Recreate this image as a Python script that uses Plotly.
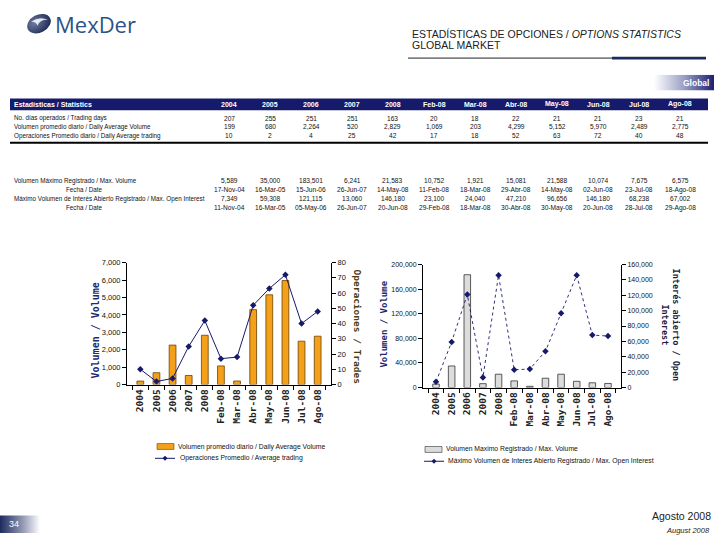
import base64
import plotly.graph_objects as go

W, H = 720, 540


def px(x):
    return x / W


def py(y):
    return 1 - y / H


# ---------------- data ----------------
periods = ["2004", "2005", "2006", "2007", "2008", "Feb-08", "Mar-08",
           "Abr-08", "May-08", "Jun-08", "Jul-08", "Ago-08"]
trading_days = [207, 255, 251, 251, 163, 20, 18, 22, 21, 21, 23, 21]
daily_avg_volume = [199, 680, 2264, 520, 2829, 1069, 203, 4299, 5152, 5970, 2489, 2775]
daily_avg_trades = [10, 2, 4, 25, 42, 17, 18, 52, 63, 72, 40, 48]
max_volume = [5589, 35000, 183501, 6241, 21583, 10752, 1921, 15081, 21588, 10074, 7675, 6575]
max_volume_date = ["17-Nov-04", "16-Mar-05", "15-Jun-06", "26-Jun-07", "14-May-08", "11-Feb-08",
                   "18-Mar-08", "29-Abr-08", "14-May-08", "02-Jun-08", "23-Jul-08", "18-Ago-08"]
max_open_interest = [7349, 59308, 121115, 13060, 146180, 23100, 24040, 47210, 96656, 146180, 68238, 67002]
max_oi_date = ["11-Nov-04", "16-Mar-05", "05-May-06", "26-Jun-07", "20-Jun-08", "29-Feb-08",
               "18-Mar-08", "30-Abr-08", "30-May-08", "20-Jun-08", "28-Jul-08", "29-Ago-08"]

row_labels_top = ["No. días operados / Trading days",
                  "Volumen promedio diario / Daily Average Volume",
                  "Operaciones Promedio diario / Daily Average trading"]
row_labels_bottom = ["Volumen Máximo Registrado / Max. Volume",
                     "Fecha / Date",
                     "Máximo Volumen de Interés Abierto Registrado / Max. Open Interest",
                     "Fecha / Date"]
legend_left = ["Volumen promedio diario / Daily Average Volume",
               "Operaciones Promedio / Average trading"]
legend_right = ["Volumen Maximo Registrado / Max. Volume",
                "Máximo Volumen de Interes Abierto Registrado / Max. Open Interest"]

NAVY = "#161a6a"
ORANGE = "#F5A01A"
GRAY = "#DCDCDC"
SANS = "Liberation Sans, Arial, sans-serif"
MONO = "DejaVu Sans Mono, monospace"

fig = go.Figure()

fig.add_trace(go.Bar(
    x=periods, y=daily_avg_volume, name=legend_left[0],
    marker=dict(color=ORANGE, line=dict(color="#6a4300", width=0.8)), width=0.42,
    xaxis="x", yaxis="y"))
fig.add_trace(go.Scatter(
    x=periods, y=daily_avg_trades, name=legend_left[1],
    mode="lines+markers", line=dict(color=NAVY, width=1),
    marker=dict(symbol="diamond", size=5, color=NAVY),
    xaxis="x", yaxis="y2"))
fig.add_trace(go.Bar(
    x=periods, y=max_volume, name=legend_right[0],
    marker=dict(color=GRAY, line=dict(color="#333333", width=0.8)), width=0.42,
    xaxis="x2", yaxis="y3"))
fig.add_trace(go.Scatter(
    x=periods, y=max_open_interest, name=legend_right[1],
    mode="lines+markers", line=dict(color=NAVY, width=0.9, dash="dot"),
    marker=dict(symbol="diamond", size=5, color=NAVY),
    xaxis="x2", yaxis="y4"))

xt = dict(family=MONO, size=9.5, color="#222222", weight="bold")
yt = dict(family=SANS, size=7.5, color="#111111")
yt_small = dict(family=SANS, size=7, color="#111111")
common_x = dict(type="category", tickangle=-90, tickfont=xt, showline=True, linecolor="black",
                linewidth=1, ticks="outside", tickson="boundaries", ticklen=4, tickcolor="black",
                showgrid=False, zeroline=False, fixedrange=True)
common_y = dict(showline=True, linecolor="black", linewidth=1, ticks="outside",
                ticklen=4, tickcolor="black", showgrid=False, zeroline=False, tickformat=",d",
                fixedrange=True)

fig.update_layout(
    width=W, height=H, autosize=False,
    margin=dict(l=0, r=0, t=0, b=0),
    paper_bgcolor="white", plot_bgcolor="rgba(0,0,0,0)",
    barmode="overlay", showlegend=False,
    xaxis=dict(domain=[px(127), px(331)], anchor="y", **common_x),
    yaxis=dict(domain=[py(387), py(263)], range=[0, 7000], dtick=1000, tickfont=yt, **common_y),
    yaxis2=dict(overlaying="y", side="right", anchor="x", range=[0, 80], dtick=10, tickfont=yt,
                **common_y),
    xaxis2=dict(domain=[px(423), px(621)], anchor="y3", **common_x),
    yaxis3=dict(domain=[py(390), py(265)], anchor="x2", range=[0, 200000], dtick=40000,
                tickfont=yt_small, **common_y),
    yaxis4=dict(overlaying="y3", side="right", anchor="x2", range=[0, 160000], dtick=20000,
                tickfont=yt_small, **common_y),
)

ann = []
shapes = []


def text(x, y, s, size=7, color="#111", anchor="center", family=SANS, weight="normal",
         angle=0, valign="middle", style="normal"):
    ann.append(dict(x=px(x), y=py(y), xref="paper", yref="paper", text=s, showarrow=False,
                    xanchor=anchor, yanchor=valign, textangle=angle,
                    font=dict(size=size, color=color, family=family, weight=weight, style=style)))


def rect(x0, y0, x1, y1, fill, line_color=None, lw=0, layer="above"):
    shapes.append(dict(type="rect", xref="paper", yref="paper", x0=px(x0), x1=px(x1),
                       y0=py(y1), y1=py(y0), fillcolor=fill, layer=layer,
                       line=dict(width=lw, color=line_color or fill)))


def hline(x0, x1, y, color, width):
    shapes.append(dict(type="line", xref="paper", yref="paper", x0=px(x0), x1=px(x1),
                       y0=py(y), y1=py(y), line=dict(color=color, width=width)))


def diamond(cx, cy, r, color):
    path = (f"M {px(cx)} {py(cy - r)} L {px(cx + r)} {py(cy)} L {px(cx)} {py(cy + r)} "
            f"L {px(cx - r)} {py(cy)} Z")
    shapes.append(dict(type="path", xref="paper", yref="paper", path=path, fillcolor=color,
                       line=dict(width=0)))


# ---------------- header ----------------
text(53, 20, "MexDer", size=22, color="#2c5285", anchor="left", family="Open Sans, sans-serif")
text(410, 30, "ESTADÍSTICAS DE OPCIONES / <i>OPTIONS STATISTICS</i>", size=10.5, color="#222",
     anchor="left")
text(410, 42, "GLOBAL MARKET", size=10.5, color="#222", anchor="left")
hline(408, 706, 55, "#222", 1)
rect(612, 53.6, 706, 56.4, "#1c2a5e")
text(711, 80, "Global", size=8.5, color="white", anchor="right", weight="bold")

# ---------------- table ----------------
col_x = [229 + i * 41 for i in range(len(periods))]
rect(10, 96, 708, 108, NAVY, layer="below")
text(12, 102, "Estadísticas / Statistics", size=7, color="white", anchor="left", weight="bold")
for cx, p in zip(col_x, periods):
    text(cx, 102, p, size=7, color="white", weight="bold")

LBL = 6.3
VAL = 6.6
rows_top_y = [116, 125, 134]
for lbl, yy in zip(row_labels_top, rows_top_y):
    text(12, yy, lbl, size=LBL, anchor="left")
for cx, a, b, c in zip(col_x, trading_days, daily_avg_volume, daily_avg_trades):
    text(cx, rows_top_y[0], f"{a:,}", size=VAL)
    text(cx, rows_top_y[1], f"{b:,}", size=VAL)
    text(cx, rows_top_y[2], f"{c:,}", size=VAL)
hline(10, 708, 141, "black", 2)

rows_bot_y = [180, 189, 198, 207]
text(12, rows_bot_y[0], row_labels_bottom[0], size=LBL, anchor="left")
text(84, rows_bot_y[1], row_labels_bottom[1], size=LBL)
text(12, rows_bot_y[2], row_labels_bottom[2], size=LBL, anchor="left")
text(84, rows_bot_y[3], row_labels_bottom[3], size=LBL)
for cx, a, b, c, d in zip(col_x, max_volume, max_volume_date, max_open_interest, max_oi_date):
    text(cx, rows_bot_y[0], f"{a:,}", size=VAL)
    text(cx, rows_bot_y[1], b, size=VAL)
    text(cx, rows_bot_y[2], f"{c:,}", size=VAL)
    text(cx, rows_bot_y[3], d, size=VAL)

# ---------------- axis titles ----------------
text(95, 332, "Volumen / Volume", size=10, color="#1c2a6e", family=MONO, weight="bold", angle=-90)
text(357, 328, "Operaciones / Trades", size=9.5, color="#4a3c0a", family=MONO, weight="bold",
     angle=90)
text(384, 326, "Volumen / Volume", size=9, color="#1c2a6e", family=MONO, weight="bold",
     angle=-90)
text(670, 326, "Interés abierto / Open<br>Interest", size=8.5, color="#1c1c40", family=MONO,
     weight="bold", angle=90)

# ---------------- legends ----------------
LEG = 6.8
rect(157, 447, 174, 453, ORANGE, "#6a4300", 0.6)
text(176, 450, legend_left[0], size=LEG, anchor="left")
hline(155, 175, 462, NAVY, 1)
diamond(165, 462, 2.5, NAVY)
text(178, 462, legend_left[1], size=LEG, anchor="left")

rect(425, 450, 442, 456, GRAY, "#333333", 0.6)
text(444, 453, legend_right[0], size=LEG, anchor="left")
hline(424, 444, 465, NAVY, 1)
diamond(434, 465, 2.5, NAVY)
text(446, 465, legend_right[1], size=LEG, anchor="left")

# ---------------- footer ----------------
text(713, 521, "Agosto 2008", size=10.5, color="#222", anchor="right")
text(712, 535, "August 2008", size=7.5, color="#222", anchor="right", style="italic")
text(14, 529, "34", size=9, color="white")


def svg_uri(svg):
    return "data:image/svg+xml;base64," + base64.b64encode(svg.encode()).decode()


badge_svg = ('<svg xmlns="http://www.w3.org/2000/svg" width="60" height="16">'
             '<defs><linearGradient id="g" x1="0" x2="1" y1="0" y2="0">'
             '<stop offset="0" stop-color="#ffffff"/><stop offset="0.5" stop-color="#9aa0c4"/>'
             '<stop offset="1" stop-color="#1c2070"/></linearGradient></defs>'
             '<rect width="60" height="16" fill="url(#g)"/></svg>')
page_svg = ('<svg xmlns="http://www.w3.org/2000/svg" width="40" height="18">'
            '<defs><linearGradient id="g" x1="0" x2="1" y1="0" y2="0">'
            '<stop offset="0" stop-color="#1c2a5e"/><stop offset="0.6" stop-color="#9aa0b8"/>'
            '<stop offset="1" stop-color="#ffffff"/></linearGradient></defs>'
            '<rect width="40" height="18" fill="url(#g)"/></svg>')
logo_svg = ('<svg xmlns="http://www.w3.org/2000/svg" width="28" height="24" viewBox="0 0 28 24">'
            '<defs><radialGradient id="r" cx="0.35" cy="0.35" r="0.8">'
            '<stop offset="0" stop-color="#6d7ca3"/><stop offset="1" stop-color="#16214a"/>'
            '</radialGradient></defs>'
            '<ellipse cx="14" cy="12" rx="12.5" ry="9" transform="rotate(-28 14 12)" fill="url(#r)"/>'
            '<path d="M6 10 Q14 4 23 8 Q15 7.5 12.5 14 Q11 9.5 6 10 Z" fill="#ffffff" opacity="0.85"/>'
            '</svg>')

fig.update_layout(images=[
    dict(source=svg_uri(badge_svg), xref="paper", yref="paper", x=px(654), y=py(72),
         sizex=60 / W, sizey=16 / H, xanchor="left", yanchor="top", sizing="stretch", layer="below"),
    dict(source=svg_uri(page_svg), xref="paper", yref="paper", x=0, y=py(520),
         sizex=40 / W, sizey=18 / H, xanchor="left", yanchor="top", sizing="stretch", layer="below"),
    dict(source=svg_uri(logo_svg), xref="paper", yref="paper", x=px(25), y=py(8),
         sizex=28 / W, sizey=24 / H, xanchor="left", yanchor="top", sizing="stretch", layer="above"),
])

fig.update_layout(annotations=ann, shapes=shapes)
fig.write_html("out.html", config=dict(displayModeBar=False),
               post_script="document.body.style.margin='0';document.body.style.overflow='hidden';")
